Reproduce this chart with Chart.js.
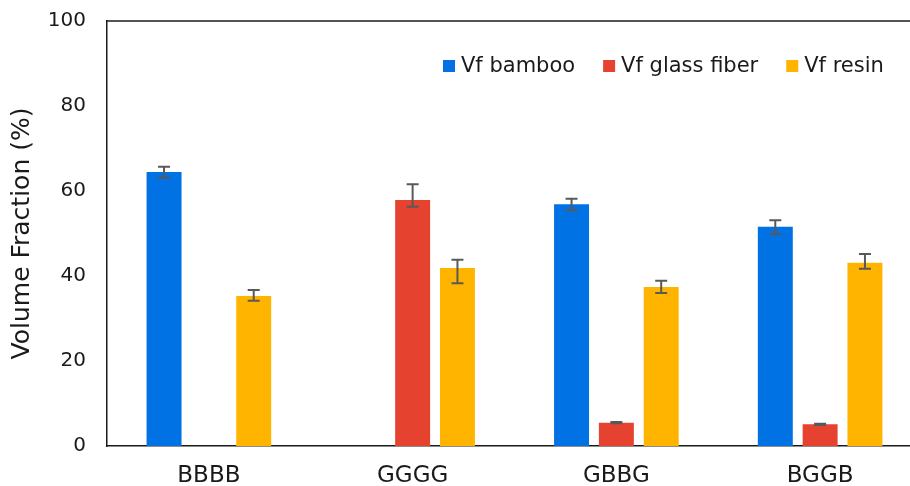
<!DOCTYPE html>
<html>
<head>
<meta charset="utf-8">
<script src="https://cdn.jsdelivr.net/npm/chart.js@4"></script>
<style>
  html, body { margin: 0; padding: 0; overflow: hidden; background: #fff; }
  #wrap { position: absolute; left: 0; top: 0; width: 930px; height: 486px; }
</style>
</head>
<body>
<div id="wrap"><canvas id="myChart"></canvas></div>
<script>
const categories = ["BBBB", "GGGG", "GBBG", "BGGB"];
const seriesNames = ["Vf bamboo", "Vf glass fiber", "Vf resin"];

const bamboo = [64.5, null, 56.9, 51.6];
const glassFiber = [null, 57.9, 5.5, 5.1];
const resin = [35.3, 41.9, 37.4, 43.1];

// error bars (upper / lower arm lengths)
const bambooErrUp = [1.2, 0, 1.3, 1.5];
const bambooErrDown = [1.4, 0, 1.4, 1.7];
const glassErrUp = [0, 3.7, 0.15, 0.15];
const glassErrDown = [0, 1.6, 0.15, 0.15];
const resinErrUp = [1.4, 1.9, 1.5, 2.1];
const resinErrDown = [1.1, 3.6, 1.4, 1.4];

const yTicks = [0, 20, 40, 60, 80, 100];

const FONT = "'DejaVu Sans', 'Liberation Sans', Arial, sans-serif";
const TEXT = "#1a1a1a";

const errorBars = {
    id: "errorBars",
    afterDatasetsDraw(chart) {
        const ctx = chart.ctx;
        const y = chart.scales.y;
        ctx.save();
        ctx.strokeStyle = "#595959";
        ctx.lineWidth = 2;
        chart.data.datasets.forEach((ds, i) => {
            const meta = chart.getDatasetMeta(i);
            meta.data.forEach((bar, j) => {
                const v = ds.data[j];
                if (v == null) return;
                const up = ds.errUp[j], down = ds.errDown[j];
                const yTop = y.getPixelForValue(v + up);
                const yBot = y.getPixelForValue(v - down);
                const x = bar.x;
                ctx.beginPath();
                ctx.moveTo(x, yTop); ctx.lineTo(x, yBot);
                ctx.moveTo(x - 6, yTop); ctx.lineTo(x + 6, yTop);
                ctx.moveTo(x - 6, yBot); ctx.lineTo(x + 6, yBot);
                ctx.stroke();
            });
        });
        ctx.restore();
    }
};

const frameAndLegend = {
    id: "frameAndLegend",
    afterDraw(chart) {
        const ctx = chart.ctx;
        const area = chart.chartArea;
        ctx.save();
        // top edge of plot frame
        ctx.strokeStyle = TEXT;
        ctx.lineWidth = 1.5;
        ctx.beginPath();
        ctx.moveTo(area.left, area.top);
        ctx.lineTo(area.right, area.top);
        ctx.stroke();
        // legend inside the plot
        ctx.font = "21px " + FONT;
        ctx.textBaseline = "middle";
        ctx.fillStyle = TEXT;
        let x = 443;
        const yMid = 66;
        chart.data.datasets.forEach(ds => {
            ctx.fillStyle = ds.backgroundColor;
            ctx.fillRect(x, yMid - 6, 12, 12);
            ctx.fillStyle = TEXT;
            ctx.fillText(ds.label, x + 18, yMid + 1);
            x += 18 + ctx.measureText(ds.label).width + 28;
        });
        ctx.restore();
    }
};

new Chart(document.getElementById("myChart"), {
    type: "bar",
    data: {
        labels: categories,
        datasets: [{
            label: seriesNames[0],
            data: bamboo,
            errUp: bambooErrUp,
            errDown: bambooErrDown,
            backgroundColor: "#0072E3",
        }, {
            label: seriesNames[1],
            data: glassFiber,
            errUp: glassErrUp,
            errDown: glassErrDown,
            backgroundColor: "#E5432F",
        }, {
            label: seriesNames[2],
            data: resin,
            errUp: resinErrUp,
            errDown: resinErrDown,
            backgroundColor: "#FFB400",
        }]
    },
    options: {
        responsive: true,
        maintainAspectRatio: false,
        animation: false,
        datasets: {
            bar: {
                categoryPercentage: 0.66,
                barPercentage: 0.78
            }
        },
        layout: {
            padding: { left: 0, right: 8, top: 21, bottom: 0 }
        },
        plugins: {
            legend: { display: false },
            tooltip: { enabled: false }
        },
        scales: {
            x: {
                grid: { display: false, drawTicks: false },
                border: { display: true, color: TEXT, width: 1.5 },
                ticks: {
                    color: TEXT,
                    padding: 16,
                    font: { family: FONT, size: 23 }
                },
                afterFit: (s) => { s.height = 40; s.paddingLeft = 0; s.paddingRight = 0; }
            },
            y: {
                min: 0,
                max: 100,
                afterBuildTicks: (s) => { s.ticks = yTicks.map(v => ({ value: v })); },
                grid: { display: false, drawTicks: false },
                border: { display: true, color: TEXT, width: 1.5 },
                ticks: {
                    color: TEXT,
                    padding: 21,
                    font: { family: FONT, size: 20 }
                },
                title: {
                    display: true,
                    text: "Volume Fraction (%)",
                    color: TEXT,
                    padding: { top: 7, bottom: 0 },
                    font: { family: FONT, size: 25 }
                },
                afterFit: (s) => { s.width = 107; s.paddingTop = 0; s.paddingBottom = 0; }
            }
        }
    },
    plugins: [errorBars, frameAndLegend]
});
</script>
</body>
</html>
